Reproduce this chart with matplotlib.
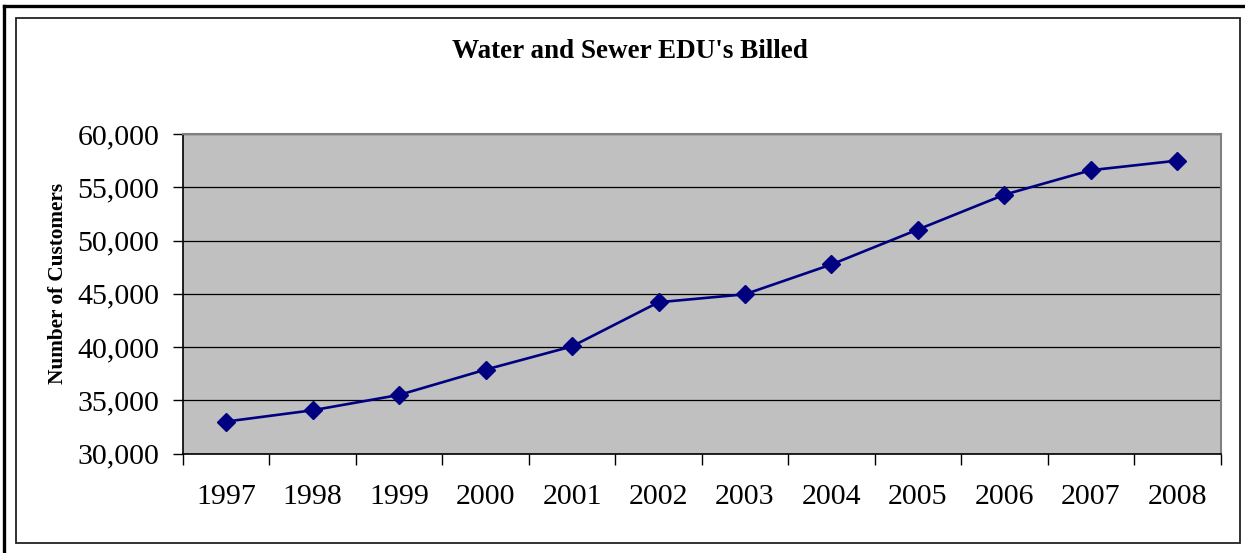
import matplotlib.pyplot as plt
from matplotlib.lines import Line2D
from matplotlib.patches import Rectangle
from matplotlib.ticker import FuncFormatter, MultipleLocator

years = ['1997', '1998', '1999', '2000', '2001', '2002',
         '2003', '2004', '2005', '2006', '2007', '2008']
edus = [33000, 34060, 35500, 37875, 40060, 44200,
        44950, 47750, 51030, 54300, 56600, 57500]

plt.rcParams['font.family'] = ['Liberation Serif', 'DejaVu Serif']

W, H = 1245, 553
fig = plt.figure(figsize=(W / 100, H / 100), dpi=100)

# page frame: heavy line along top and left, thin box inside
fig.add_artist(Line2D([4 / W, 4 / W], [0, 1 - 6 / H], transform=fig.transFigure,
                      color='black', lw=2.4, solid_capstyle='projecting'))
fig.add_artist(Line2D([4 / W, 1], [1 - 6 / H, 1 - 6 / H], transform=fig.transFigure,
                      color='black', lw=2.4, solid_capstyle='projecting'))
fig.add_artist(Rectangle((16 / W, 1 - 543 / H), (1240 - 16) / W, (543 - 18) / H,
                         transform=fig.transFigure, fill=False,
                         edgecolor='#222222', lw=1.3))

ax = fig.add_axes([183 / W, 1 - 453.5 / H, (1220.5 - 183) / W, (453.5 - 134) / H])
ax.set_facecolor('#C0C0C0')

x = list(range(len(years)))
ax.plot(x, edus, color='#000080', lw=1.9, marker='D', markersize=9.5,
        markerfacecolor='#000080', markeredgecolor='#000080', zorder=3)

ax.set_xlim(-0.5, len(years) - 0.5)
ax.set_ylim(30000, 60000)
ax.yaxis.set_major_locator(MultipleLocator(5000))
ax.yaxis.set_major_formatter(FuncFormatter(lambda v, p: f'{int(v):,}'))
ax.grid(axis='y', color='black', lw=0.9)
ax.set_axisbelow(True)

# category boundaries get tick marks, labels sit between them
ax.set_xticks([i - 0.5 for i in range(len(years) + 1)])
ax.set_xticklabels([])
ax.set_xticks(x, minor=True)
ax.set_xticklabels(years, minor=True)
ax.tick_params(axis='x', which='major', direction='out', length=8, width=1, color='black')
ax.tick_params(axis='x', which='minor', length=0, pad=22, labelsize=21.5)
ax.tick_params(axis='y', direction='out', length=7, width=1, pad=10, labelsize=21.5)

for side in ['top', 'right']:
    ax.spines[side].set_color('#808080')
    ax.spines[side].set_linewidth(1.5)
for side in ['left', 'bottom']:
    ax.spines[side].set_color('black')
    ax.spines[side].set_linewidth(1.2)

fig.text(630 / W, 1 - 52 / H, "Water and Sewer EDU's Billed", ha='center', va='center',
         fontsize=19.5, fontweight='bold')
fig.text(58 / W, 1 - 283 / H, 'Number of Customers', ha='center', va='center',
         rotation=90, fontsize=15.3, fontweight='bold')

fig.savefig('out.png', dpi=100)
